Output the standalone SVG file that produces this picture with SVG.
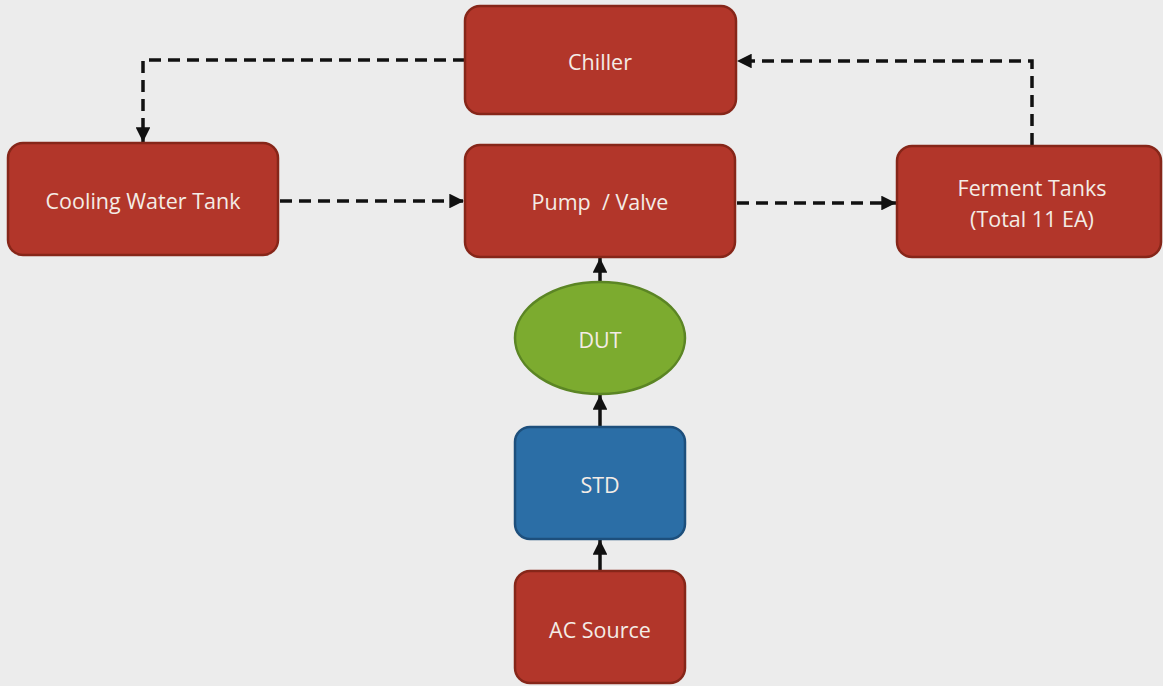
<svg xmlns="http://www.w3.org/2000/svg" width="1163" height="686" viewBox="0 0 1163 686">
<defs>
<style>
.red{fill:#b2362a;stroke:#862619;stroke-width:2.5}
.grn{fill:#7cab2f;stroke:#5b8524;stroke-width:2.5}
.blu{fill:#2b6ea6;stroke:#1d4f7c;stroke-width:2.5}
.t{font-family:"Open Sans","Noto Sans",sans-serif;font-size:21.5px;fill:#f4ece6;text-anchor:middle;dominant-baseline:central}
.solid{fill:none;stroke:#111;stroke-width:3.5}
.dash{fill:none;stroke:#111;stroke-width:3.5;stroke-dasharray:12 7}
</style>
<marker id="ah" viewBox="0 0 10 10" refX="10" refY="5" markerWidth="4.2" markerHeight="4.2" orient="auto" markerUnits="strokeWidth">
<path d="M0,0 L10,5 L0,10 z" fill="#111"/>
</marker>
</defs>
<rect width="1163" height="686" fill="#ececec"/>
<g id="connectors">
<path class="dash" d="M465,60 H143 V142" marker-end="url(#ah)"/>
<path class="dash" d="M280,201 H464" marker-end="url(#ah)"/>
<path class="dash" d="M737,203 H896" marker-end="url(#ah)"/>
<path class="dash" d="M1032,145 V61 H737" marker-end="url(#ah)"/>
<path class="solid" d="M600,571 V540" marker-end="url(#ah)"/>
<path class="solid" d="M600,427 V395" marker-end="url(#ah)"/>
<path class="solid" d="M600,282 V258" marker-end="url(#ah)"/>
</g>
<g id="chiller"><rect class="red" x="465" y="6" width="271" height="108" rx="15"/><text class="t" x="600" y="61">Chiller</text></g>
<g id="cooling"><rect class="red" x="8" y="143" width="270" height="112" rx="15"/><text class="t" x="143" y="200">Cooling Water Tank</text></g>
<g id="pump"><rect class="red" x="465" y="145" width="270" height="112" rx="15"/><text class="t" x="600" y="201" xml:space="preserve">Pump  / Valve</text></g>
<g id="ferment"><rect class="red" x="897" y="146" width="264" height="111" rx="15"/><text class="t" x="1032" y="187">Ferment Tanks</text><text class="t" x="1032" y="218">(Total 11 EA)</text></g>
<g id="dut"><ellipse class="grn" cx="600" cy="338" rx="85" ry="56"/><text class="t" x="600" y="339">DUT</text></g>
<g id="std"><rect class="blu" x="515" y="427" width="170" height="112" rx="15"/><text class="t" x="600" y="484">STD</text></g>
<g id="ac"><rect class="red" x="515" y="571" width="170" height="112" rx="15"/><text class="t" x="600" y="629">AC Source</text></g>
</svg>
